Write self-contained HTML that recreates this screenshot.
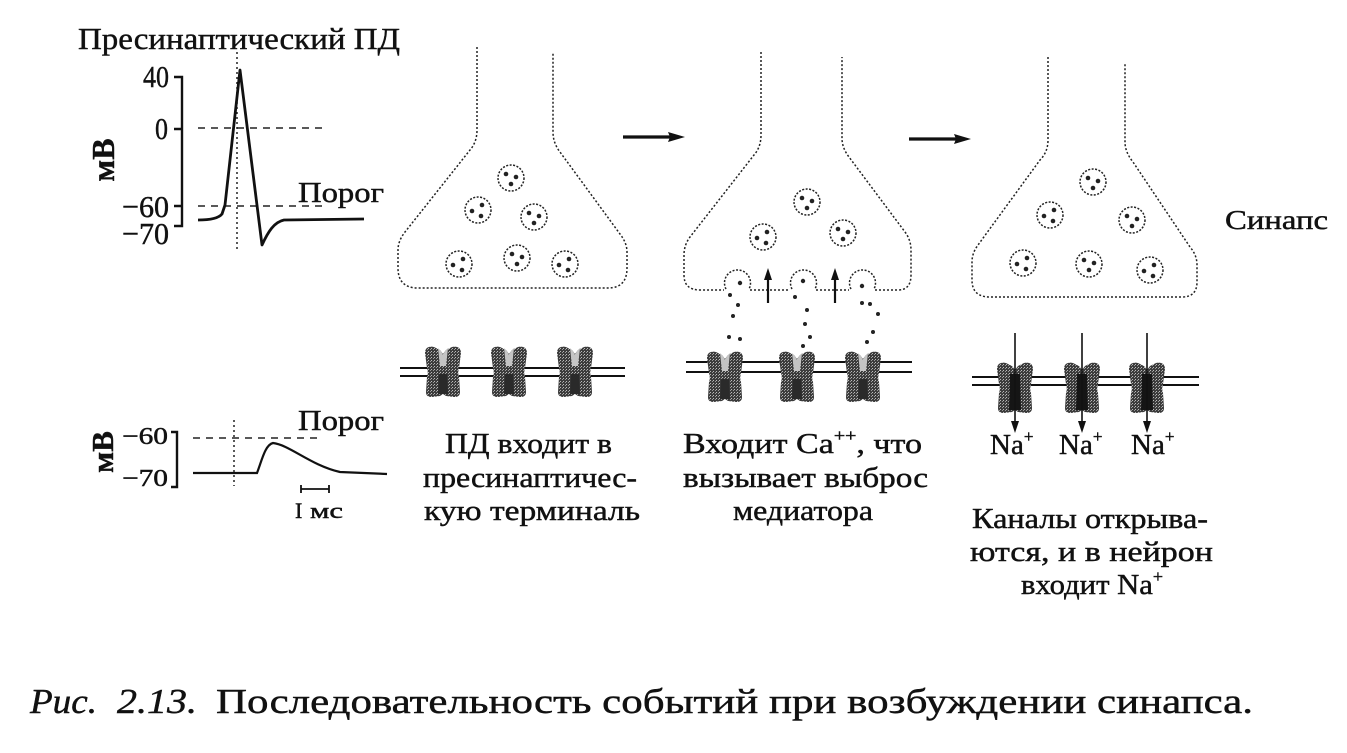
<!DOCTYPE html>
<html><head><meta charset="utf-8"><style>
html,body{margin:0;padding:0;background:#fff;}
svg{display:block;}
text{font-family:"Liberation Serif","Times New Roman",serif;fill:#111;stroke:#111;stroke-width:0.45;}
</style></head><body>
<svg width="1347" height="753" viewBox="0 0 1347 753" xmlns="http://www.w3.org/2000/svg">
<defs>
  <pattern id="dith" width="3" height="3" patternUnits="userSpaceOnUse">
    <rect width="3" height="3" fill="#3c3c3c"/>
    <rect x="0" y="0" width="1" height="1" fill="#bbb"/>
    <rect x="2" y="1" width="1" height="1" fill="#999"/>
  </pattern>
  <g id="ch">
    <path d="M-18,-19 C-18,-25 -13,-26 -9,-25 L-3,-22 L0,-18 L3,-22 L9,-25 C13,-26 18,-25 18,-19 L16,-4 C15,0 15,2 16,5 L17,20 C17,25 13,25 11,25 L3,24 L0,22 L-3,24 L-11,25 C-13,25 -17,25 -17,20 L-16,5 C-15,2 -15,0 -16,-4 Z" fill="url(#dith)"/>
    <path d="M-5,-24 L-2,-21 L0,-17 L2,-21 L5,-24 L3,-6 L-3,-6 Z" fill="#c4c4c4"/>
    <path d="M-4,2 L4,2 L5,22 L-5,22 Z" fill="#2a2a2a"/>
  </g>
  <g id="chopen">
    <path d="M-18,-19 C-18,-25 -13,-26 -9,-25 L-3,-22 L0,-18 L3,-22 L9,-25 C13,-26 18,-25 18,-19 L16,-4 C15,0 15,2 16,5 L17,20 C17,25 13,25 11,25 L3,24 L0,22 L-3,24 L-11,25 C-13,25 -17,25 -17,20 L-16,5 C-15,2 -15,0 -16,-4 Z" fill="url(#dith)"/>
    <path d="M-5,-14 L5,-14 L6,22 L-6,22 Z" fill="#151515"/>
  </g>
  <g id="ves">
    <circle r="13" fill="none" stroke="#222" stroke-width="1.5" stroke-dasharray="2 1.5"/>
    <circle cx="-5" cy="-4" r="2.3" fill="#222"/>
    <circle cx="5" cy="-1" r="2.3" fill="#222"/>
    <circle cx="0" cy="6" r="2.3" fill="#222"/>
  </g>
  <g id="ves2">
    <circle r="13" fill="none" stroke="#222" stroke-width="1.5" stroke-dasharray="2 1.5"/>
    <circle cx="-6" cy="1" r="2.3" fill="#222"/>
    <circle cx="4" cy="-5" r="2.3" fill="#222"/>
    <circle cx="3" cy="6" r="2.3" fill="#222"/>
  </g>
</defs>

<!-- Top-left AP graph -->
<text x="78" y="49" font-size="31" textLength="322" lengthAdjust="spacingAndGlyphs">Пресинаптический ПД</text>
<text transform="translate(114,160) rotate(-90)" font-size="32" font-weight="bold" text-anchor="middle">мВ</text>
<text x="143" y="87" font-size="31" textLength="26" lengthAdjust="spacingAndGlyphs">40</text>
<text x="155" y="139" font-size="31" textLength="13" lengthAdjust="spacingAndGlyphs">0</text>
<text x="122" y="217" font-size="31" textLength="47" lengthAdjust="spacingAndGlyphs">−60</text>
<text x="122" y="244" font-size="31" textLength="47" lengthAdjust="spacingAndGlyphs">−70</text>
<path d="M174,77 L182,77 L182,226 L174,226 M174,129 L182,129 M174,206 L182,206" stroke="#111" stroke-width="2.4" fill="none"/>
<line x1="198" y1="128" x2="328" y2="128" stroke="#222" stroke-width="1.6" stroke-dasharray="7 6"/>
<line x1="198" y1="206" x2="328" y2="206" stroke="#222" stroke-width="1.6" stroke-dasharray="7 6"/>
<line x1="237" y1="52" x2="237" y2="250" stroke="#222" stroke-width="1.5" stroke-dasharray="2 3"/>
<path d="M198,220 C208,220 218,219 222,214 L225,205 L240,70 L262,245 C268,232 274,222 284,220 L364,219" stroke="#111" stroke-width="2.8" fill="none" stroke-linejoin="round"/>
<text x="298" y="202" font-size="29" textLength="86" lengthAdjust="spacingAndGlyphs">Порог</text>

<!-- Bottom-left PSP graph -->
<text transform="translate(113,452) rotate(-90)" font-size="31" font-weight="bold" text-anchor="middle">мВ</text>
<text x="122" y="444" font-size="24" textLength="46" lengthAdjust="spacingAndGlyphs">−60</text>
<text x="122" y="486" font-size="24" textLength="46" lengthAdjust="spacingAndGlyphs">−70</text>
<path d="M171,432 L177,432 L177,487 L171,487" stroke="#111" stroke-width="2.4" fill="none"/>
<line x1="193" y1="438" x2="322" y2="438" stroke="#222" stroke-width="1.6" stroke-dasharray="7 6"/>
<line x1="234" y1="420" x2="234" y2="486" stroke="#222" stroke-width="1.5" stroke-dasharray="2 3"/>
<path d="M193,473 L257,473 C262,460 265,445 273,443 C290,445 310,465 340,472 L387,474" stroke="#111" stroke-width="2.2" fill="none"/>
<text x="298" y="430" font-size="29" textLength="86" lengthAdjust="spacingAndGlyphs">Порог</text>
<path d="M301,485 L301,493 M301,489 L329,489 M329,485 L329,493" stroke="#111" stroke-width="1.8" fill="none"/>
<text x="295" y="518" font-size="22">I</text>
<text x="310" y="518" font-size="22" textLength="33" lengthAdjust="spacingAndGlyphs">мс</text>

<!-- Flask 1 -->
<path d="M477,47 L477,130 Q477,142 470,150 L405,232 Q398,241 398,250 L398,268 Q398,288 418,288 L608,288 Q627,288 627,268 L627,252 Q627,243 620,234 L560,152 Q553,143 553,132 L553,52" fill="none" stroke="#222" stroke-width="1.5" stroke-dasharray="2 2"/>
<use href="#ves" x="511" y="178"/>
<use href="#ves2" x="478" y="210"/>
<use href="#ves" x="534" y="217"/>
<use href="#ves2" x="459" y="264"/>
<use href="#ves" x="517" y="258"/>
<use href="#ves2" x="565" y="264"/>
<line x1="400" y1="368" x2="625" y2="368" stroke="#111" stroke-width="2"/>
<line x1="400" y1="376" x2="625" y2="376" stroke="#111" stroke-width="2"/>
<use href="#ch" x="443" y="372"/>
<use href="#ch" x="509" y="372"/>
<use href="#ch" x="575" y="372"/>

<!-- Arrow 1 -->
<line x1="623" y1="137" x2="672" y2="137" stroke="#111" stroke-width="3.2"/>
<path d="M685,137 L668,132 L670,137 L668,142 Z" fill="#111"/>

<!-- Flask 2 -->
<path d="M761,52 L761,135 Q761,147 754,155 L690,237 Q684,245 684,255 L684,275 Q684,290 700,290 L724,290 M750,290 L790,290 M816,290 L849,290 M875,290 L898,290 Q911,290 911,275 L911,250 Q911,240 905,232 L849,157 Q842,148 842,138 L842,57" fill="none" stroke="#222" stroke-width="1.5" stroke-dasharray="2 2"/>
<use href="#ves" x="807" y="202"/>
<use href="#ves2" x="763" y="237"/>
<use href="#ves" x="843" y="233"/>
<path d="M726,289 A13,13 0 1 1 749,289" fill="none" stroke="#222" stroke-width="1.5" stroke-dasharray="2 1.6"/>
<path d="M792,289 A13,13 0 1 1 815,289" fill="none" stroke="#222" stroke-width="1.5" stroke-dasharray="2 1.6"/>
<path d="M851,289 A13,13 0 1 1 874,289" fill="none" stroke="#222" stroke-width="1.5" stroke-dasharray="2 1.6"/>
<circle cx="740" cy="283" r="2.2" fill="#222"/>
<circle cx="803" cy="281" r="2.2" fill="#222"/>
<circle cx="862" cy="286" r="2.2" fill="#222"/>
<!-- up arrows -->
<line x1="768" y1="303" x2="768" y2="276" stroke="#111" stroke-width="2.2"/>
<path d="M768,268 L764,280 L772,280 Z" fill="#111"/>
<line x1="835" y1="303" x2="835" y2="276" stroke="#111" stroke-width="2.2"/>
<path d="M835,268 L831,280 L839,280 Z" fill="#111"/>
<!-- released dots -->
<g fill="#222">
<circle cx="730" cy="295" r="2"/><circle cx="738" cy="305" r="2"/><circle cx="733" cy="316" r="2"/><circle cx="729" cy="337" r="2"/><circle cx="740" cy="339" r="2"/>
<circle cx="795" cy="297" r="2"/><circle cx="807" cy="310" r="2"/><circle cx="805" cy="324" r="2"/><circle cx="810" cy="337" r="2"/><circle cx="803" cy="346" r="2"/>
<circle cx="862" cy="303" r="2"/><circle cx="870" cy="304" r="2"/><circle cx="878" cy="314" r="2"/><circle cx="873" cy="332" r="2"/><circle cx="867" cy="342" r="2"/>
</g>
<line x1="686" y1="362" x2="912" y2="362" stroke="#111" stroke-width="2"/>
<line x1="686" y1="372" x2="912" y2="372" stroke="#111" stroke-width="2"/>
<use href="#ch" x="725" y="377"/>
<use href="#ch" x="797" y="377"/>
<use href="#ch" x="863" y="377"/>

<!-- Arrow 2 -->
<line x1="909" y1="139" x2="958" y2="139" stroke="#111" stroke-width="3.2"/>
<path d="M971,139 L954,134 L956,139 L954,144 Z" fill="#111"/>

<!-- Flask 3 -->
<path d="M1048,57 L1048,140 Q1048,152 1040,160 L978,245 Q972,253 972,262 L972,280 Q972,297 990,297 L1182,297 Q1197,297 1197,282 L1197,265 Q1197,255 1190,247 L1133,162 Q1125,152 1125,142 L1125,63" fill="none" stroke="#222" stroke-width="1.5" stroke-dasharray="2 2"/>
<use href="#ves" x="1093" y="182"/>
<use href="#ves2" x="1050" y="215"/>
<use href="#ves" x="1132" y="220"/>
<use href="#ves2" x="1023" y="263"/>
<use href="#ves" x="1089" y="264"/>
<use href="#ves2" x="1150" y="270"/>
<line x1="972" y1="377" x2="1199" y2="377" stroke="#111" stroke-width="2"/>
<line x1="972" y1="385" x2="1199" y2="385" stroke="#111" stroke-width="2"/>
<use href="#chopen" x="1015" y="388"/>
<use href="#chopen" x="1082" y="388"/>
<use href="#chopen" x="1147" y="388"/>
<g stroke="#111" stroke-width="1.6">
<line x1="1015" y1="333" x2="1015" y2="424"/>
<line x1="1082" y1="333" x2="1082" y2="424"/>
<line x1="1147" y1="333" x2="1147" y2="424"/>
</g>
<g fill="#111">
<path d="M1015,433 L1011,421 L1019,421 Z"/>
<path d="M1082,433 L1078,421 L1086,421 Z"/>
<path d="M1147,433 L1143,421 L1151,421 Z"/>
</g>
<text x="990" y="454" font-size="29">Na<tspan font-size="17" dy="-12">+</tspan></text>
<text x="1059" y="454" font-size="29">Na<tspan font-size="17" dy="-12">+</tspan></text>
<text x="1131" y="454" font-size="29">Na<tspan font-size="17" dy="-12">+</tspan></text>

<text x="1225" y="229" font-size="27" textLength="103" lengthAdjust="spacingAndGlyphs">Синапс</text>

<!-- Captions -->
<text x="445" y="453" font-size="29" textLength="167" lengthAdjust="spacingAndGlyphs">ПД входит в</text>
<text x="423" y="487" font-size="29" textLength="214" lengthAdjust="spacingAndGlyphs">пресинаптичес-</text>
<text x="424" y="520" font-size="29" textLength="216" lengthAdjust="spacingAndGlyphs">кую терминаль</text>

<text x="683" y="453" font-size="29" textLength="239" lengthAdjust="spacingAndGlyphs">Входит Ca<tspan font-size="17" dy="-12">++</tspan><tspan dy="12">, что</tspan></text>
<text x="683" y="487" font-size="29" textLength="245" lengthAdjust="spacingAndGlyphs">вызывает выброс</text>
<text x="733" y="520" font-size="29" textLength="140" lengthAdjust="spacingAndGlyphs">медиатора</text>

<text x="972" y="528" font-size="29" textLength="236" lengthAdjust="spacingAndGlyphs">Каналы открыва-</text>
<text x="970" y="561" font-size="29" textLength="243" lengthAdjust="spacingAndGlyphs">ются, и в нейрон</text>
<text x="1021" y="594" font-size="29" textLength="142" lengthAdjust="spacingAndGlyphs">входит Na<tspan font-size="17" dy="-12">+</tspan></text>

<text x="30" y="713" font-size="35" font-style="italic" textLength="67" lengthAdjust="spacingAndGlyphs">Рис.</text>
<text x="117" y="713" font-size="35" font-style="italic" textLength="80" lengthAdjust="spacingAndGlyphs">2.13.</text>
<text x="216" y="713" font-size="35" textLength="1037" lengthAdjust="spacingAndGlyphs">Последовательность событий при возбуждении синапса.</text>
</svg>
</body></html>
